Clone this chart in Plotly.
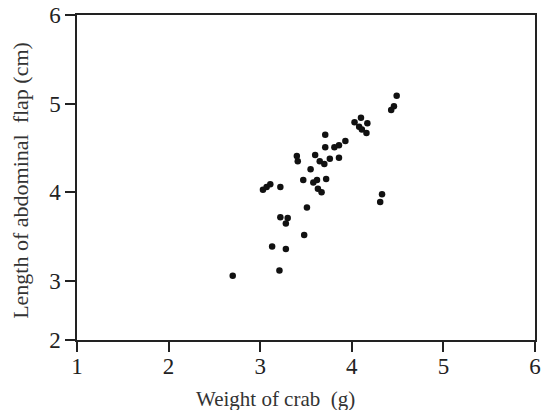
import plotly.graph_objects as go

# Weight of crab (g)
weight = [4.49, 4.46, 4.43, 4.10, 4.03, 4.17, 4.08, 4.11, 4.16, 3.93,
          3.71, 3.86, 3.81, 3.71, 3.86, 3.60, 3.40, 3.41, 3.65, 3.70,
          3.76, 3.55, 3.72, 3.47, 3.58, 3.62, 3.67, 3.63, 3.51, 3.22,
          3.03, 3.07, 3.11, 3.22, 3.30, 3.28, 3.48, 3.13, 3.28, 3.21,
          2.70, 4.33, 4.31]
# Length of abdominal flap (cm)
flap = [5.09, 4.97, 4.93, 4.84, 4.79, 4.78, 4.74, 4.71, 4.67, 4.58,
        4.65, 4.53, 4.51, 4.51, 4.39, 4.42, 4.41, 4.35, 4.35, 4.32,
        4.38, 4.26, 4.15, 4.14, 4.11, 4.14, 4.00, 4.04, 3.83, 4.06,
        4.03, 4.06, 4.09, 3.72, 3.71, 3.65, 3.52, 3.39, 3.36, 3.12,
        3.06, 3.98, 3.89]

x_ticks = [1, 2, 3, 4, 5, 6]
y_min = 2.335
y_tickvals = [y_min, 3, 4, 5, 6]
y_ticktext = ["2", "3", "4", "5", "6"]

serif = "Liberation Serif, Times New Roman, serif"

fig = go.Figure()
fig.add_trace(go.Scatter(
    x=weight, y=flap, mode="markers",
    marker=dict(color="#111111", size=6.5, line=dict(width=0)),
    showlegend=False,
))

axis_common = dict(
    showline=True, linecolor="#222222", linewidth=1.5, mirror=True,
    ticks="outside", ticklen=10, tickwidth=1.5, tickcolor="#222222",
    showgrid=False, zeroline=False, automargin=False,
    tickfont=dict(family=serif, size=23, color="#222222"),
)

fig.update_xaxes(range=[1, 6], tickvals=x_ticks, ticklabelstandoff=-5,
                 **axis_common)
fig.update_yaxes(range=[y_min, 6], tickvals=y_tickvals, ticktext=y_ticktext,
                 **axis_common)

fig.add_annotation(
    text="Weight of crab  (g)", xref="paper", yref="paper",
    x=0.434, y=-0.183, xanchor="center", yanchor="middle", showarrow=False,
    font=dict(family=serif, size=21, color="#333333"),
)
fig.add_annotation(
    text="Length of abdominal  flap (cm)", xref="paper", yref="paper",
    x=-0.122, y=0.49, xanchor="center", yanchor="middle", showarrow=False,
    textangle=-90,
    font=dict(family=serif, size=22, color="#333333"),
)

fig.update_layout(
    width=543, height=410,
    margin=dict(l=77, r=8, t=15, b=70),
    paper_bgcolor="white", plot_bgcolor="white",
)

fig.write_html("out.html")
